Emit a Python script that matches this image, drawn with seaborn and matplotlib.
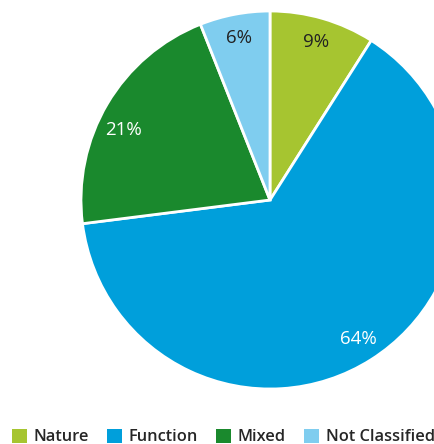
import matplotlib
matplotlib.use("Agg")
import matplotlib.pyplot as plt
from matplotlib.patches import Patch
import numpy as np
import seaborn as sns

categories = ["Nature", "Function", "Mixed", "Not Classified"]
shares = [9, 64, 21, 6]
colors = ["#A6C530", "#009FDB", "#1A892D", "#7FCDEF"]
label_colors = ["#222222", "white", "white", "#222222"]

sns.set_theme(style="white")
plt.rcParams["font.family"] = ["Open Sans", "DejaVu Sans"]

fig = plt.figure(figsize=(4.34, 4.44), dpi=100)
ax = fig.add_axes([0, 0, 1, 1])

wedges, texts, autotexts = ax.pie(
    shares,
    colors=colors,
    startangle=90,
    counterclock=False,
    autopct=lambda p: f"{p:.0f}%",
    pctdistance=0.87,
    wedgeprops=dict(edgecolor="white", linewidth=2),
    textprops=dict(fontsize=13.5),
)
for t, c in zip(autotexts, label_colors):
    t.set_color(c)

# the Mixed label sits a little below the wedge's bisector
w = wedges[2]
ang = np.deg2rad((w.theta1 + w.theta2) / 2 + 5)
autotexts[2].set_position((0.86 * np.cos(ang), 0.86 * np.sin(ang)))

# pie radius in pixels and centre position
r_px = 189.0
cx, cy = 270.0, 200.0
ax.set_aspect("auto")
ax.set_xlim(-cx / r_px, (434 - cx) / r_px)
ax.set_ylim(-(444 - cy) / r_px, cy / r_px)
ax.axis("off")

handles = [Patch(facecolor=c, edgecolor="none") for c in colors]
fig.legend(
    handles, categories,
    loc="center left", bbox_to_anchor=(0.027, 0.016),
    ncol=4, frameon=False,
    prop=dict(family=["Open Sans", "DejaVu Sans"], size=11.8, weight=600),
    handlelength=0.95, handleheight=0.95,
    handletextpad=0.4, columnspacing=1.07,
    borderaxespad=0, borderpad=0,
)

fig.savefig("out.png", dpi=100)
